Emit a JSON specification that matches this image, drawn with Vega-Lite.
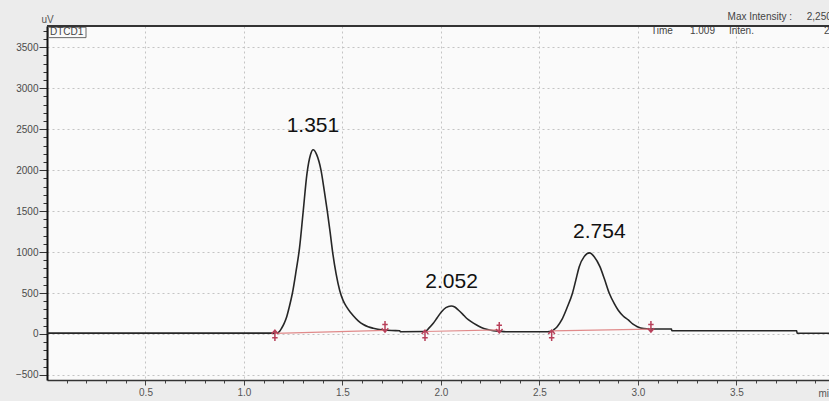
{
  "$schema": "https://vega.github.io/schema/vega-lite/v6.json",
  "width": 782,
  "height": 354,
  "autosize": {"type": "none"},
  "padding": {"left": 47, "top": 26, "right": 0, "bottom": 21},
  "background": "#ececec",
  "config": {"view": {"fill": "#fafafa", "stroke": null}, "font": "Liberation Sans"},
  "datasets": {
    "signal": [
      {"t": 0, "v": 10}, {"t": 0.5, "v": 10}, {"t": 1.0, "v": 10}, {"t": 1.166, "v": 10},
      {"t": 1.18, "v": 30}, {"t": 1.191, "v": 70}, {"t": 1.204, "v": 130}, {"t": 1.217, "v": 211},
      {"t": 1.23, "v": 330}, {"t": 1.246, "v": 500}, {"t": 1.264, "v": 760}, {"t": 1.282, "v": 1050},
      {"t": 1.30, "v": 1480}, {"t": 1.32, "v": 1960}, {"t": 1.338, "v": 2190}, {"t": 1.351, "v": 2250},
      {"t": 1.369, "v": 2190}, {"t": 1.391, "v": 2000}, {"t": 1.407, "v": 1760}, {"t": 1.423, "v": 1500},
      {"t": 1.437, "v": 1250}, {"t": 1.45, "v": 1000}, {"t": 1.468, "v": 730}, {"t": 1.486, "v": 530},
      {"t": 1.503, "v": 410}, {"t": 1.521, "v": 330}, {"t": 1.54, "v": 265}, {"t": 1.555, "v": 222},
      {"t": 1.58, "v": 160}, {"t": 1.606, "v": 115}, {"t": 1.63, "v": 88}, {"t": 1.656, "v": 70},
      {"t": 1.707, "v": 49}, {"t": 1.75, "v": 42},
      {"t": 1.79, "v": 40}, {"t": 1.795, "v": 28}, {"t": 1.919, "v": 30}, {"t": 1.94, "v": 75},
      {"t": 1.961, "v": 131}, {"t": 1.98, "v": 195}, {"t": 2.003, "v": 272}, {"t": 2.025, "v": 322},
      {"t": 2.052, "v": 342}, {"t": 2.07, "v": 330}, {"t": 2.088, "v": 293}, {"t": 2.11, "v": 242},
      {"t": 2.13, "v": 192}, {"t": 2.155, "v": 148}, {"t": 2.181, "v": 110}, {"t": 2.205, "v": 80},
      {"t": 2.232, "v": 57}, {"t": 2.266, "v": 40}, {"t": 2.30, "v": 32}, {"t": 2.33, "v": 28},
      {"t": 2.54, "v": 28}, {"t": 2.562, "v": 32}, {"t": 2.575, "v": 55}, {"t": 2.59, "v": 89},
      {"t": 2.613, "v": 171}, {"t": 2.64, "v": 320}, {"t": 2.668, "v": 500}, {"t": 2.685, "v": 660},
      {"t": 2.702, "v": 822}, {"t": 2.727, "v": 944}, {"t": 2.754, "v": 990}, {"t": 2.778, "v": 944},
      {"t": 2.807, "v": 822}, {"t": 2.83, "v": 670}, {"t": 2.854, "v": 500}, {"t": 2.88, "v": 370},
      {"t": 2.90, "v": 290}, {"t": 2.925, "v": 220}, {"t": 2.951, "v": 171}, {"t": 2.975, "v": 120},
      {"t": 2.997, "v": 89}, {"t": 3.03, "v": 65}, {"t": 3.06, "v": 60}, {"t": 3.17, "v": 60},
      {"t": 3.172, "v": 40}, {"t": 3.806, "v": 40}, {"t": 3.808, "v": 8}, {"t": 3.97, "v": 8}
    ],
    "baseline": [
      {"peak": 1, "t": 1.157, "v": 8}, {"peak": 1, "t": 1.716, "v": 45},
      {"peak": 2, "t": 1.919, "v": 30}, {"peak": 2, "t": 2.296, "v": 50},
      {"peak": 3, "t": 2.562, "v": 38}, {"peak": 3, "t": 3.066, "v": 60}
    ],
    "markers": [
      {"peak": 1, "kind": "start", "t": 1.157, "v": -20}, {"peak": 1, "kind": "end", "t": 1.716, "v": 90},
      {"peak": 2, "kind": "start", "t": 1.919, "v": -20}, {"peak": 2, "kind": "end", "t": 2.296, "v": 80},
      {"peak": 3, "kind": "start", "t": 2.562, "v": -20}, {"peak": 3, "kind": "end", "t": 3.066, "v": 90}
    ],
    "peaks": [
      {"label": "1.351", "t": 1.35, "v": 2540},
      {"label": "2.052", "t": 2.054, "v": 640},
      {"label": "2.754", "t": 2.804, "v": 1245}
    ],
    "header": [
      {"text": "DTCD1", "t": 0.015, "v": 3682},
      {"text": "Time", "t": 3.066, "v": 3695},
      {"text": "1.009", "t": 3.264, "v": 3695},
      {"text": "Inten.", "t": 3.462, "v": 3695},
      {"text": "2", "t": 3.944, "v": 3695},
      {"text": "Max Intensity :", "t": 3.455, "v": 3864},
      {"text": "2,250", "t": 3.857, "v": 3864}
    ],
    "box": [{"t0": 0.007, "t1": 0.198, "v0": 3745, "v1": 3618}],
    "border": [{"v": 3760}]
  },
  "layer": [
    {
      "data": {"name": "signal"},
      "mark": {"type": "line", "color": "#262626", "strokeWidth": 1.6, "interpolate": "monotone"},
      "encoding": {
        "x": {
          "field": "t", "type": "quantitative",
          "scale": {"domain": [0, 3.97], "nice": false, "zero": false},
          "axis": {
            "title": "min", "titleX": 771, "titleY": 16, "titleAlign": "left", "titleBaseline": "alphabetic",
            "titleFontWeight": "normal", "titleFontSize": 10, "titleColor": "#555", "titleFont": "Liberation Sans",
            "tickCount": 200,
            "values": [0.1,0.2,0.3,0.4,0.5,0.6,0.7,0.8,0.9,1.0,1.1,1.2,1.3,1.4,1.5,1.6,1.7,1.8,1.9,2.0,2.1,2.2,2.3,2.4,2.5,2.6,2.7,2.8,2.9,3.0,3.1,3.2,3.3,3.4,3.5,3.6,3.7,3.8,3.9],
            "labelExpr": "abs(datum.value*2 - round(datum.value*2)) < 0.001 ? format(datum.value, '.1f') : ''",
            "labelFontSize": 10, "labelColor": "#555", "labelPadding": 2, "labelFlush": false, "labelOverlap": false,
            "labelFont": "Liberation Sans",
            "tickSize": {"condition": {"test": "abs(datum.value*2 - round(datum.value*2)) < 0.001", "value": 5}, "value": 3},
            "tickColor": "#444",
            "grid": true, "gridColor": "#c4c4c4", "gridDash": [2, 3],
            "gridOpacity": {"condition": {"test": "abs(datum.value*2 - round(datum.value*2)) < 0.001", "value": 1}, "value": 0},
            "domainColor": "#333", "domainWidth": 1.5
          }
        },
        "y": {
          "field": "v", "type": "quantitative",
          "scale": {"domain": [-562, 3760], "nice": false, "zero": false},
          "axis": {
            "title": "uV", "titleAngle": 0, "titleX": 0, "titleY": -4, "titleAlign": "center", "titleBaseline": "alphabetic",
            "titleFontWeight": "normal", "titleFontSize": 10, "titleColor": "#555", "titleFont": "Liberation Sans",
            "tickCount": 200,
            "values": [-500,-400,-300,-200,-100,0,100,200,300,400,500,600,700,800,900,1000,1100,1200,1300,1400,1500,1600,1700,1800,1900,2000,2100,2200,2300,2400,2500,2600,2700,2800,2900,3000,3100,3200,3300,3400,3500,3600,3700],
            "labelExpr": "datum.value % 500 === 0 ? format(datum.value, 'd') : ''",
            "labelFontSize": 10, "labelColor": "#4a4a4a", "labelPadding": 1, "labelOverlap": false,
            "labelFont": "Liberation Sans",
            "tickSize": {"condition": {"test": "datum.value % 500 === 0", "value": 8}, "value": 4},
            "tickColor": "#333",
            "grid": true, "gridColor": "#c4c4c4", "gridDash": [2, 3],
            "gridOpacity": {"condition": {"test": "datum.value % 500 === 0", "value": 1}, "value": 0},
            "domainColor": "#111", "domainWidth": 2
          }
        }
      }
    },
    {
      "data": {"name": "baseline"},
      "mark": {"type": "line", "color": "#e08a8a", "strokeWidth": 1.2},
      "encoding": {
        "x": {"field": "t", "type": "quantitative"},
        "y": {"field": "v", "type": "quantitative"},
        "detail": {"field": "peak", "type": "nominal"}
      }
    },
    {
      "data": {"name": "markers"},
      "transform": [{"filter": "datum.kind === 'start'"}],
      "mark": {"type": "point", "shape": "M0,1L0,-1M-0.6,-0.3L0,-1L0.6,-0.3M-0.5,0.4L0.5,0.4", "filled": false, "stroke": "#b8405a", "strokeWidth": 1.5, "size": 120, "opacity": 1},
      "encoding": {
        "x": {"field": "t", "type": "quantitative"},
        "y": {"field": "v", "type": "quantitative"}
      }
    },
    {
      "data": {"name": "markers"},
      "transform": [{"filter": "datum.kind === 'end'"}],
      "mark": {"type": "point", "shape": "M0,1L0,-1M-0.6,-0.3L0,-1L0.6,-0.3M-0.5,0.4L0.5,0.4", "angle": 180, "filled": false, "stroke": "#b8405a", "strokeWidth": 1.5, "size": 120, "opacity": 1},
      "encoding": {
        "x": {"field": "t", "type": "quantitative"},
        "y": {"field": "v", "type": "quantitative"}
      }
    },
    {
      "data": {"name": "peaks"},
      "mark": {"type": "text", "font": "Liberation Sans", "fontSize": 21, "color": "#111", "align": "center", "baseline": "middle"},
      "encoding": {
        "x": {"field": "t", "type": "quantitative"},
        "y": {"field": "v", "type": "quantitative"},
        "text": {"field": "label", "type": "nominal"}
      }
    },
    {
      "data": {"name": "box"},
      "mark": {"type": "rect", "fillOpacity": 0, "stroke": "#666", "strokeWidth": 1},
      "encoding": {
        "x": {"field": "t0", "type": "quantitative"},
        "x2": {"field": "t1"},
        "y": {"field": "v0", "type": "quantitative"},
        "y2": {"field": "v1"}
      }
    },
    {
      "data": {"name": "header"},
      "mark": {"type": "text", "font": "Liberation Sans", "fontSize": 10, "color": "#444", "align": "left", "baseline": "middle"},
      "encoding": {
        "x": {"field": "t", "type": "quantitative"},
        "y": {"field": "v", "type": "quantitative"},
        "text": {"field": "text", "type": "nominal"}
      }
    },
    {
      "data": {"name": "border"},
      "mark": {"type": "rule", "color": "#333", "strokeWidth": 2},
      "encoding": {
        "y": {"field": "v", "type": "quantitative"}
      }
    }
  ]
}
